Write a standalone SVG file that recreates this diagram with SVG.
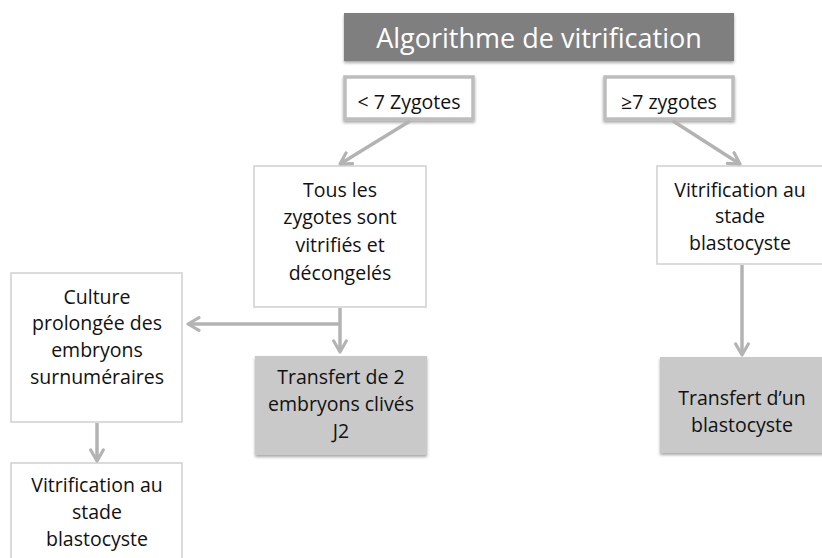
<svg xmlns="http://www.w3.org/2000/svg" width="822" height="558" viewBox="0 0 822 558">
<defs>
<filter id="sh" x="-10%" y="-10%" width="120%" height="130%">
<feDropShadow dx="0" dy="2" stdDeviation="1.5" flood-color="#000" flood-opacity="0.35"/>
</filter>
<marker id="ah" viewBox="0 0 10 10" refX="8" refY="5" markerWidth="4.5" markerHeight="4.5" orient="auto" markerUnits="strokeWidth">
<path d="M1,1 L8,5 L1,9" fill="none" stroke="#b3b3b3" stroke-width="2" stroke-linecap="round" stroke-linejoin="round"/>
</marker>
<style>
text{font-family:"Open Sans","Liberation Sans",sans-serif;font-size:19.5px;fill:#111;text-anchor:middle}
.title{fill:#fff;font-size:27px}
.w{fill:#fff;stroke:#cfcfcf;stroke-width:1.5}
.c{fill:#fff;stroke:#bdbdbd;stroke-width:3.5}
.g{fill:#c9c9c9;stroke:none}
.conn{stroke:#b3b3b3;stroke-width:3.5;fill:none}
</style>
</defs>
<rect width="822" height="558" fill="#fff"/>
<g id="title">
<rect x="344" y="13" width="390" height="48" fill="#7f7f7f" filter="url(#sh)"/>
<text class="title" x="539" y="48">Algorithme de vitrification</text>
</g>
<g id="lt7">
<rect class="c" x="345" y="77" width="128" height="42" filter="url(#sh)"/>
<text x="409" y="109">&lt; 7 Zygotes</text>
</g>
<g id="ge7">
<rect class="c" x="605" y="77" width="128" height="42" filter="url(#sh)"/>
<text x="669" y="109">≥7 zygotes</text>
</g>
<g id="tous">
<rect class="w" x="254" y="166" width="172" height="141"/>
<text x="340" y="197">Tous les</text>
<text x="340" y="224">zygotes sont</text>
<text x="340" y="252">vitrifiés et</text>
<text x="340" y="280">décongelés</text>
</g>
<g id="vitr-right">
<rect class="w" x="657" y="166" width="170" height="98"/>
<text x="740" y="197">Vitrification au</text>
<text x="740" y="223">stade</text>
<text x="740" y="250">blastocyste</text>
</g>
<g id="culture">
<rect class="w" x="11" y="273" width="171" height="149"/>
<text x="97" y="304">Culture</text>
<text x="97" y="330">prolongée des</text>
<text x="97" y="357">embryons</text>
<text x="97" y="384">surnuméraires</text>
</g>
<g id="transfert2">
<rect class="g" x="255" y="356" width="172" height="99" filter="url(#sh)"/>
<text x="341" y="384">Transfert de 2</text>
<text x="341" y="411">embryons clivés</text>
<text x="341" y="438">J2</text>
</g>
<g id="transfert1">
<rect class="g" x="660" y="357" width="165" height="96" filter="url(#sh)"/>
<text x="742" y="405">Transfert d’un</text>
<text x="742" y="432">blastocyste</text>
</g>
<g id="vitr-left">
<rect class="w" x="11" y="463" width="171" height="110"/>
<text x="97" y="492">Vitrification au</text>
<text x="97" y="519">stade</text>
<text x="97" y="546">blastocyste</text>
</g>
<g id="connectors">
<line class="conn" x1="410" y1="121" x2="340" y2="164" marker-end="url(#ah)"/>
<line class="conn" x1="673" y1="121" x2="740" y2="164" marker-end="url(#ah)"/>
<line class="conn" x1="340" y1="308" x2="340" y2="352" marker-end="url(#ah)"/>
<polyline class="conn" points="340,324 188,324" marker-end="url(#ah)"/>
<line class="conn" x1="742" y1="265" x2="742" y2="355" marker-end="url(#ah)"/>
<line class="conn" x1="97" y1="423" x2="97" y2="461" marker-end="url(#ah)"/>
</g>
</svg>
